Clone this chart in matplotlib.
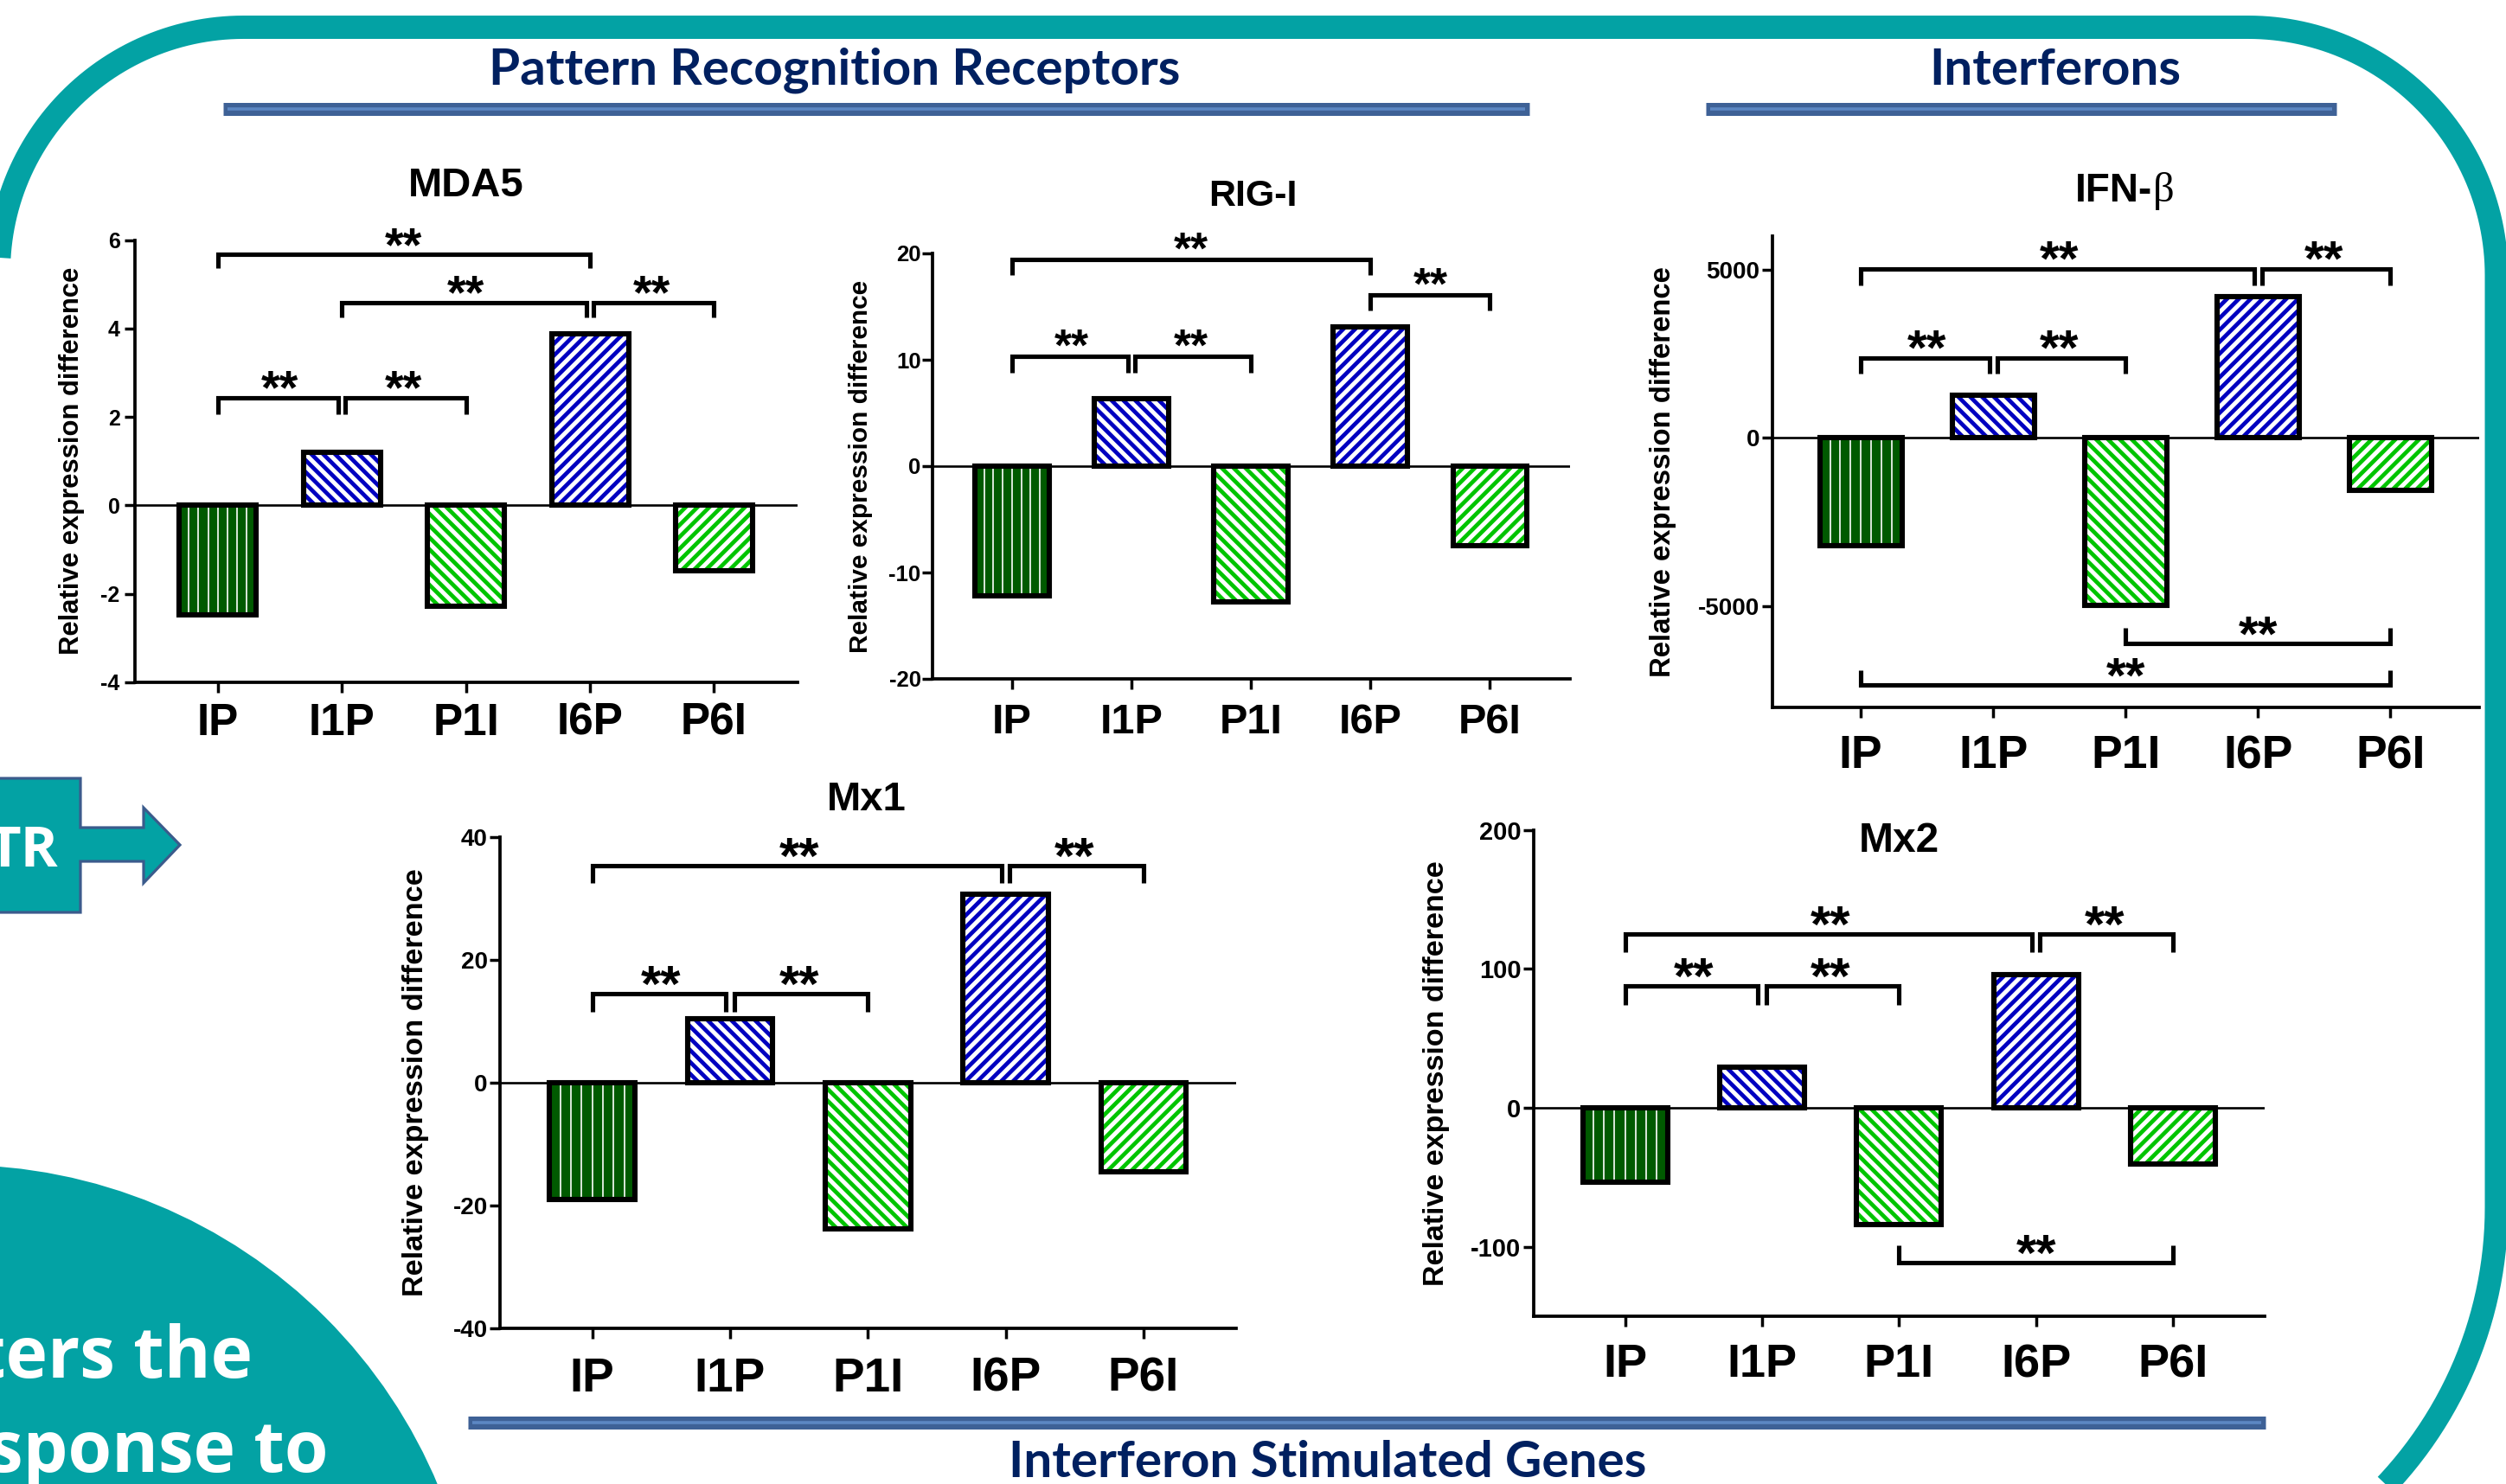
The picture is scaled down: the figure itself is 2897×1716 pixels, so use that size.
import numpy as np
import matplotlib
matplotlib.use("Agg")
import matplotlib.pyplot as plt
from matplotlib.patches import Circle, Polygon
from matplotlib.collections import LineCollection
from matplotlib.transforms import IdentityTransform

plt.rcParams["axes.unicode_minus"] = False

W, H = 2897, 1716
TEAL = "#03a2a4"
NAVY = "#002060"
BLUE = "#0000c0"
GREEN = "#00c400"
DKGREEN = "#005a00"
SANS = "Liberation Sans"

# ---- data ----
groups = ["IP", "I1P", "P1I", "I6P", "P6I"]

mda5 = [-2.47, 1.19, -2.29, 3.87, -1.48]
rigi = [-12.2, 6.36, -12.8, 13.07, -7.5]
ifnb = [-3196, 1276, -4974, 4186, -1557]
mx1 = [-18.95, 10.44, -23.75, 30.7, -14.5]
mx2 = [-53.4, 29.4, -84.0, 96.0, -40.6]

mda5_ticks = [-4, -2, 0, 2, 4, 6]
rigi_ticks = [-20, -10, 0, 10, 20]
ifnb_ticks = [-5000, 0, 5000]
mx1_ticks = [-40, -20, 0, 20, 40]
mx2_ticks = [-100, 0, 100, 200]

# significance brackets: (group a, group b, bracket level, tip level)
mda5_sig = [(0, 1, 2.43, 2.06), (1, 2, 2.43, 2.06), (0, 3, 5.67, 5.36),
            (1, 3, 4.59, 4.25), (3, 4, 4.59, 4.25)]
rigi_sig = [(0, 1, 10.3, 8.8), (1, 2, 10.3, 8.8), (0, 3, 19.4, 17.95),
            (3, 4, 16.1, 14.6)]
ifnb_sig = [(0, 1, 2379, 1917), (1, 2, 2379, 1917), (0, 3, 5026, 4536),
            (3, 4, 5026, 4536), (2, 4, -6103, -5645), (0, 4, -7332, -6907)]
mx1_sig = [(0, 1, 14.5, 11.5), (1, 2, 14.5, 11.5), (0, 3, 35.4, 32.6),
           (3, 4, 35.4, 32.6)]
mx2_sig = [(0, 1, 88, 74.3), (1, 2, 88, 74.3), (0, 3, 125.2, 112.3),
           (3, 4, 125.2, 112.3), (2, 4, -111.4, -99.1)]

# bar looks per group ("|" = thin white lines on dark green)
bar_face = [DKGREEN, "white", "white", "white", "white"]
bar_stripe = ["|", "\\", "\\", "/", "/"]
bar_stripe_color = ["white", BLUE, GREEN, BLUE, GREEN]

# panel layout in pixels: axes box (left, right, top, bottom)
panels = [
    dict(title=("MDA5", ""), vals=mda5, ticks=mda5_ticks, sig=mda5_sig,
         box=(156, 921.6, 277.6, 788.8), ylim=(-4, 6), title_at=(539, 227, 34),
         ytick_fs=18, ypad=4, xtick_fs=37, xpad=8, ylab=(83, 22.3), star_fs=40),
    dict(title=("RIG-I", ""), vals=rigi, ticks=rigi_ticks, sig=rigi_sig,
         box=(1077.7, 1815, 293, 785), ylim=(-20, 20), title_at=(1448, 238, 31),
         ytick_fs=18.5, ypad=1, xtick_fs=35, xpad=12, ylab=(995, 21.5), star_fs=37),
    dict(title=("IFN-", "\u03b2"), vals=ifnb, ticks=ifnb_ticks, sig=ifnb_sig,
         box=(2049, 2866, 272.8, 818), ylim=(-8000, 6000), title_at=(2488, 233, 33),
         ytick_fs=20, ypad=2, xtick_fs=38.5, xpad=14, ylab=(1922, 23.7), star_fs=42),
    dict(title=("Mx1", ""), vals=mx1, ticks=mx1_ticks, sig=mx1_sig,
         box=(578.3, 1428.7, 968.2, 1536), ylim=(-40, 40), title_at=(1001.5, 936.6, 34),
         ytick_fs=20, ypad=2, xtick_fs=39.5, xpad=15, ylab=(480.5, 24.7), star_fs=43),
    dict(title=("Mx2", ""), vals=mx2, ticks=mx2_ticks, sig=mx2_sig,
         box=(1773, 2618, 959.7, 1522), ylim=(-150, 200), title_at=(2195.5, 985, 34.5),
         ytick_fs=21, ypad=2, xtick_fs=39, xpad=14, ylab=(1660, 24.5), star_fs=43),
]

fig = plt.figure(figsize=(W / 100, H / 100), dpi=100)

# background layer in pixel units (y down)
bg = fig.add_axes([0, 0, 1, 1])
bg.set_xlim(0, W)
bg.set_ylim(H, 0)
bg.axis("off")


def rounded_frame(l, t, r, b, tl, tr, br, bl):
    def arc(cx, cy, rad, a0, a1):
        a = np.radians(np.linspace(a0, a1, 60))
        return np.column_stack([cx + rad * np.cos(a), cy + rad * np.sin(a)])
    return np.vstack([arc(l + tl, t + tl, tl, 180, 270),
                      arc(r - tr, t + tr, tr, 270, 360),
                      arc(r - br, b - br, br, 0, 90),
                      arc(l + bl, b - bl, bl, 90, 180)])


bg.add_patch(Polygon(rounded_frame(-1.5, 31.5, 2886, 1864, 283, 287, 468, 300),
                     closed=True, fill=False, ec=TEAL, lw=19.4, joinstyle="round"))
bg.add_patch(Circle((-50, 1950), 603, fc=TEAL, ec="none"))

arrow_pts = [(-30, 900), (93, 900), (93, 957), (166, 957), (166, 934), (208, 977),
             (166, 1021), (166, 996), (93, 996), (93, 1055), (-30, 1055)]
bg.add_patch(Polygon(arrow_pts, closed=True, fc=TEAL, ec="#3b5b8c", lw=2.3))
bg.text(68, 1002, "TR", ha="right", va="baseline", color="white",
        fontsize=47, fontweight="bold", family="Open Sans")
bg.text(292, 1593, "ters the", ha="right", va="baseline", color="white",
        fontsize=59, fontweight="bold", family="Open Sans")
bg.text(379, 1702, "sponse to", ha="right", va="baseline", color="white",
        fontsize=59, fontweight="bold", family="Open Sans")

# section headers
headers = [("Pattern Recognition Receptors", 965, 98, 258, 1768, 125.5),
           ("Interferons", 2376, 98, 1972, 2701, 126),
           ("Interferon Stimulated Genes", 1535, 1708, 541, 2619, 1645)]
for label, tx, ty, bx0, bx1, by in headers:
    bg.text(tx, ty, label, ha="center", va="baseline", color=NAVY,
            fontsize=42, fontweight="bold", family="Lato")
    bg.plot([bx0, bx1], [by, by], color="#3e6196", lw=10.8, solid_capstyle="butt")
    bg.plot([bx0 + 5, bx1 - 5], [by, by], color="#5c87c3", lw=2.6, solid_capstyle="butt")


def add_stripes(ax, bar, kind, color):
    # stripes drawn in pixel space so the 45 degree slant and spacing are even
    bb = bar.get_window_extent()
    x0, x1, y0, y1 = bb.x0, bb.x1, bb.y0, bb.y1
    h = y1 - y0
    if kind == "|":
        xs_ = x0 + (x1 - x0) * np.arange(1, 8) / 8
        segs = [[(x, y0), (x, y1)] for x in xs_]
        lw = 1.2
    else:
        period = 13.7
        offs = np.arange(-h - period, (x1 - x0) + period, period)
        if kind == "/":
            segs = [[(x0 + c, y0), (x0 + c + h, y1)] for c in offs]
        else:
            segs = [[(x0 + c, y1), (x0 + c + h, y0)] for c in offs]
        lw = 3.4
    lc = LineCollection(segs, colors=color, linewidths=lw,
                        transform=IdentityTransform(), zorder=2.2)
    ax.add_collection(lc, autolim=False)
    lc.set_clip_path(bar)


# ---- the five bar charts ----
xs = np.arange(len(groups))
bw = 0.62
for p in panels:
    x0, x1, y0, y1 = p["box"]
    ax = fig.add_axes([x0 / W, 1 - y1 / H, (x1 - x0) / W, (y1 - y0) / H])
    ax.patch.set_alpha(0)
    vals = p["vals"]
    ax.set_xlim(-0.667, 4.67)
    ax.set_ylim(*p["ylim"])
    ax.set_autoscale_on(False)

    ax.axhline(0, color="black", lw=1.9, zorder=1)
    faces = ax.bar(xs, vals, width=bw, color=bar_face, linewidth=0, zorder=2)
    for bar, kind, c in zip(faces, bar_stripe, bar_stripe_color):
        add_stripes(ax, bar, kind, c)
    ax.bar(xs, vals, width=bw, fill=False, edgecolor="black", linewidth=4.4, zorder=3)

    for s in ("top", "right"):
        ax.spines[s].set_visible(False)
    for s in ("left", "bottom"):
        ax.spines[s].set_linewidth(2.7)
    ax.set_xticks(xs, groups, fontsize=p["xtick_fs"], fontweight="bold", family=SANS)
    ax.set_yticks(p["ticks"], [str(t) for t in p["ticks"]], fontsize=p["ytick_fs"],
                  fontweight="bold", family=SANS)
    ax.tick_params(axis="both", direction="out", length=8.5, width=2.5)
    ax.tick_params(axis="x", pad=p["xpad"])
    ax.tick_params(axis="y", pad=p["ypad"])

    # significance brackets
    sig = p["sig"]
    for a, b, lev, tip in sig:
        def shared(k):
            return sum(1 for s in sig if k in s[:2] and s[2] == lev) > 1
        xa = a + (0.03 if shared(a) else 0)
        xb = b - (0.03 if shared(b) else 0)
        ax.plot([xa, xa, xb, xb], [tip, lev, lev, tip], color="black", lw=3.7,
                solid_joinstyle="miter", solid_capstyle="butt", clip_on=False, zorder=4)
        fs = p["star_fs"]
        ax.annotate("**", xy=((a + b) / 2, lev), xytext=(0, 18 - 0.57 * fs),
                    textcoords="offset points", ha="center", va="baseline",
                    fontsize=fs, fontweight="bold", family=SANS, annotation_clip=False)

    # y label and title in pixel positions
    lx, lfs = p["ylab"]
    fig.text(lx / W, 1 - (y0 + y1) / 2 / H, "Relative expression difference",
             rotation=90, ha="center", va="center", fontsize=lfs,
             fontweight="bold", family=SANS)
    tx, ty, tfs = p["title_at"]
    main, greek = p["title"]
    if greek:
        fig.text(tx / W, 1 - ty / H, main, ha="right", va="baseline",
                 fontsize=tfs, fontweight="bold", family=SANS)
        fig.text((tx + 1) / W, 1 - ty / H, greek, ha="left", va="baseline",
                 fontsize=tfs + 2, family="Liberation Serif")
    else:
        fig.text(tx / W, 1 - ty / H, main, ha="center", va="baseline",
                 fontsize=tfs, fontweight="bold", family=SANS)

fig.savefig("out.png", dpi=100)
